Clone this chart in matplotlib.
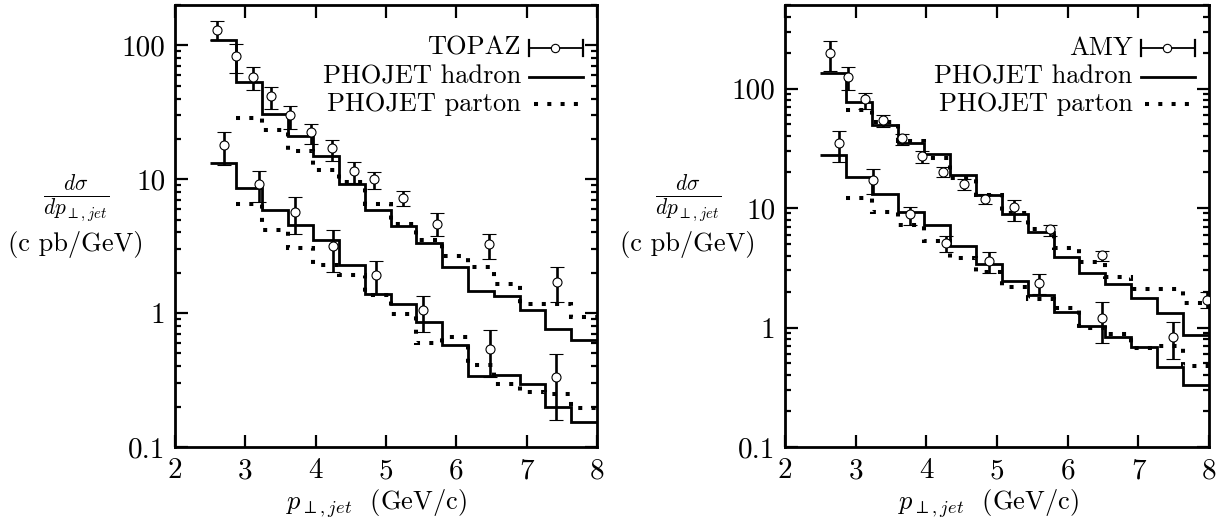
import matplotlib
matplotlib.use("Agg")
import matplotlib.pyplot as plt
from matplotlib.ticker import FixedLocator, NullFormatter, FixedFormatter

plt.rcParams['font.family'] = ['cmr10', 'DejaVu Serif']
plt.rcParams['mathtext.fontset'] = 'cm'
plt.rcParams['axes.formatter.use_mathtext'] = True

# bin edges of the PHOJET histograms (GeV/c)
edges = [2.5, 2.867, 3.233, 3.6, 3.967, 4.333, 4.7, 5.067, 5.433, 5.8,
         6.167, 6.533, 6.9, 7.267, 7.633, 8.0]

# ---- left panel: TOPAZ ----
topaz_hi_x = [2.60, 2.87, 3.11, 3.37, 3.63, 3.93, 4.23, 4.54, 4.83, 5.24, 5.72, 6.47, 7.43]
topaz_hi_y = [131, 83, 58, 42, 30, 22.5, 17.1, 11.6, 10.0, 7.2, 4.65, 3.26, 1.72]
topaz_hi_lo = [109, 62, 46.6, 33.6, 23.8, 18.4, 13.6, 9.35, 8.5, 6.3, 3.74, 2.52, 1.21]
topaz_hi_up = [152, 103, 68.7, 48.7, 35, 25.7, 19.5, 13.4, 11.3, 8.15, 5.6, 3.92, 2.2]

topaz_lo_x = [2.69, 3.20, 3.70, 4.25, 4.86, 5.53, 6.48, 7.42]
topaz_lo_y = [17.9, 9.25, 5.68, 3.17, 1.94, 1.05, 0.54, 0.333]
topaz_lo_lo = [12.7, 6.7, 3.92, 2.02, 1.4, 0.72, 0.333, 0.16]
topaz_lo_up = [22.7, 11.6, 7.35, 4.2, 2.44, 1.34, 0.743, 0.497]

topaz_had_hi = [109, 53, 30.5, 20.9, 14.9, 9.25, 5.85, 4.44, 3.35, 2.2, 1.46, 1.34, 1.05, 0.765, 0.633]
topaz_had_lo = [13.2, 8.65, 5.85, 4.52, 3.49, 2.3, 1.4, 1.17, 0.857, 0.58, 0.337, 0.343, 0.293, 0.199, 0.153]
# parton histograms start at the second bin
topaz_par_hi = [28.6, 23.4, 16.2, 11.8, 9.5, 6.55, 4.6, 3.5, 2.67, 2.2, 1.66, 1.17, 1.17, 0.93]
topaz_par_lo = [6.5, 4.2, 3.06, 2.27, 1.94, 1.36, 0.98, 0.6, 0.66, 0.41, 0.297, 0.257, 0.247, 0.195]

# ---- right panel: AMY ----
amy_hi_x = [2.64, 2.89, 3.13, 3.39, 3.65, 3.94, 4.24, 4.53, 4.83, 5.24, 5.75, 6.48, 7.97]
amy_hi_y = [199, 125, 81, 54, 38.3, 27.3, 20.1, 15.8, 12.0, 10.1, 6.65, 4.03, 1.7]
amy_hi_lo = [140, 98, 68, 47.6, 33.7, 24, 18.2, 14.1, 10.9, 7.8, 5.85, 3.61, 1.45]
amy_hi_up = [250, 152, 92, 60, 41.4, 30, 22, 17.4, 13, 11.6, 7.2, 4.38, 2.0]

amy_lo_x = [2.76, 3.25, 3.77, 4.28, 4.89, 5.60, 6.48, 7.49]
amy_lo_y = [34.8, 17.1, 8.9, 5.05, 3.6, 2.35, 1.21, 0.84]
amy_lo_lo = [24.4, 13.2, 7.2, 4.3, 2.88, 1.9, 0.74, 0.54]
amy_lo_up = [44, 21.3, 10.2, 5.8, 4.32, 2.83, 1.64, 1.12]

amy_had_hi = [136, 77, 49.5, 35.2, 28.5, 18.9, 12.8, 8.98, 6.35, 3.9, 2.88, 2.33, 1.78, 1.31, 0.86]
amy_had_lo = [27.8, 18.3, 13, 9.33, 7.2, 4.82, 3.43, 2.46, 1.88, 1.35, 1.02, 0.84, 0.69, 0.47, 0.33]
amy_par_hi = [65.8, 52.8, 36.4, 26.4, 17.9, 12.8, 9.0, 6.65, 4.67, 3.5, 2.65, 2.12, 2.12, 1.6]
amy_par_lo = [12.2, 9.3, 7.2, 5.25, 3.79, 2.94, 2.2, 1.74, 1.45, 1.0, 0.88, 0.68, 0.7, 0.48]

W, H = 1219, 525
fig = plt.figure(figsize=(W / 100, H / 100), dpi=100)

def px_box(x0, x1, y0, y1):
    return [x0 / W, 1 - y1 / H, (x1 - x0) / W, (y1 - y0) / H]

ax1 = fig.add_axes(px_box(175, 597, 5, 447))
ax2 = fig.add_axes(px_box(785, 1209, 5, 447))

HAD = dict(color='black', lw=2.0, baseline=None)
PAR = dict(color='black', lw=2.9, baseline=None, linestyle=(0, (1, 2.3)))
ERR = dict(fmt='o', mfc='white', mec='black', mew=0.8, ms=6.5, ecolor='black',
           elinewidth=1.9, capsize=5, capthick=1.9, zorder=5)

def errs(y, lo, up):
    return [[a - b for a, b in zip(y, lo)], [b - a for a, b in zip(y, up)]]

def panel(ax, name, ymax, ylabs, hx, hy, hlo, hup, lx, ly, llo, lup,
          had_hi, had_lo, par_hi, par_lo):
    ax.stairs(had_hi, edges, **HAD)
    ax.stairs(had_lo, edges, **HAD)
    ax.stairs(par_hi, edges[1:], **PAR).set_capstyle('butt')
    ax.stairs(par_lo, edges[1:], **PAR).set_capstyle('butt')
    ax.errorbar(hx, hy, yerr=errs(hy, hlo, hup), **ERR)
    ax.errorbar(lx, ly, yerr=errs(ly, llo, lup), **ERR)

    ax.set_yscale('log')
    ax.set_xlim(2, 8)
    ax.set_ylim(0.1, ymax)
    ax.xaxis.set_major_locator(FixedLocator([2, 3, 4, 5, 6, 7, 8]))
    ax.xaxis.set_major_formatter(FixedFormatter(['2', '3', '4', '5', '6', '7', '8']))
    ax.yaxis.set_major_locator(FixedLocator([0.1, 1, 10, 100]))
    ax.yaxis.set_major_formatter(FixedFormatter(ylabs))
    minors = [m * d for d in (0.1, 1, 10, 100) for m in range(2, 10)]
    ax.yaxis.set_minor_locator(FixedLocator(minors))
    ax.yaxis.set_minor_formatter(NullFormatter())
    ax.tick_params(which='both', direction='in', top=True, right=True,
                   labelsize=21, width=1.6)
    ax.tick_params(which='major', length=9)
    ax.tick_params(which='minor', length=4.5)
    ax.tick_params(axis='x', pad=8)
    ax.tick_params(axis='y', pad=7)
    for s in ax.spines.values():
        s.set_linewidth(2.0)

    # key, drawn in axes fractions
    tr = ax.transAxes
    rows = [0.903, 0.838, 0.776]
    labels = [name, 'PHOJET hadron', 'PHOJET parton']
    for r, t in zip(rows, labels):
        ax.text(0.82, r, t, transform=tr, ha='right', va='center', fontsize=19)
    ax.plot([0.840, 0.968], [rows[0], rows[0]], transform=tr, color='black', lw=1.3)
    for xc in (0.840, 0.968):
        ax.plot([xc, xc], [rows[0] - 0.018, rows[0] + 0.018], transform=tr,
                color='black', lw=1.6)
    ax.plot([0.9], [rows[0]], 'o', transform=tr, mfc='white', mec='black',
            mew=0.8, ms=6)
    ax.plot([0.840, 0.968], [rows[1], rows[1]], transform=tr, color='black', lw=2.0)
    ln, = ax.plot([0.85, 0.968], [rows[2], rows[2]], transform=tr, color='black',
                  lw=2.9, linestyle=(0, (1, 2.3)))
    ln.set_dash_capstyle('butt')

panel(ax1, 'TOPAZ', 200, ['0.1', '1', '10', '100'],
      topaz_hi_x, topaz_hi_y, topaz_hi_lo, topaz_hi_up,
      topaz_lo_x, topaz_lo_y, topaz_lo_lo, topaz_lo_up,
      topaz_had_hi, topaz_had_lo, topaz_par_hi, topaz_par_lo)
panel(ax2, 'AMY', 500, ['0.1', '1', '10', '100'],
      amy_hi_x, amy_hi_y, amy_hi_lo, amy_hi_up,
      amy_lo_x, amy_lo_y, amy_lo_lo, amy_lo_up,
      amy_had_hi, amy_had_lo, amy_par_hi, amy_par_lo)

# axis titles
for xc, xl in ((76, 376), (688, 988)):
    fig.text(xc / W, 1 - 198 / H, r'$\frac{d\sigma}{dp_{\perp,jet}}$',
             ha='center', va='center', fontsize=22)
    fig.text(xc / W, 1 - 244 / H, '(c pb/GeV)', ha='center', va='center', fontsize=19)
    fig.text(xl / W, 1 - 488 / H, r'$p_{\perp,jet}$  (GeV/c)', ha='center',
             va='top', fontsize=19)

fig.savefig('out.png', dpi=100)
